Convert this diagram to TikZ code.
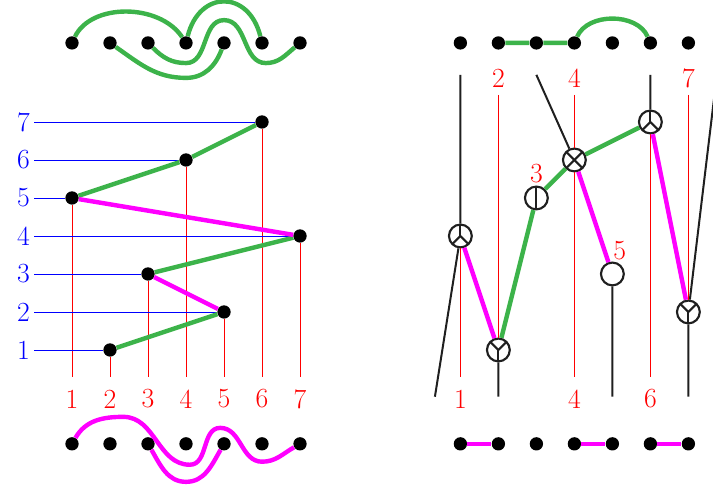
\documentclass[tikz,border=0pt]{standalone}
\usepackage{amsmath,amssymb}
\usepackage{tikz}
\definecolor{arcgreen}{RGB}{60,179,74}
\definecolor{arcmagenta}{RGB}{255,0,255}
\tikzset{
	dot/.style={circle, fill=black, inner sep=0pt, minimum size=3.5mm},
	gline/.style={arcgreen, line width=3.3pt},
	mline/.style={arcmagenta, line width=3.3pt},
	bline/.style={black!88, line width=1.5pt},
	rline/.style={red, line width=0.6pt},
	vtx/.style={circle, draw=black!88, fill=white, line width=1.6pt, inner sep=0pt, minimum size=6mm},
	spokes/.style={vtx, path picture={
		\foreach \a in {#1} \draw[bline] (path picture bounding box.center) -- +(\a:4mm);}},
}
\begin{document}
\begin{tikzpicture}[every node/.style={font=\huge}]
	\clip (-0.895,-2.579) rectangle (17.868,10.21);
	% left: points of the permutation
	\foreach \c/\r in {1/5,2/1,3/3,4/6,5/2,6/7,7/4} {
		\node[dot] (a\c) at (\c,\r) {};
		\coordinate (e\c) at (\c,0.3);
		\node[red] (n\c) at (\c,-0.29) {\c};
		\node[blue, anchor=east, inner sep=1mm] (m\r) at (0,\r) {\r};
		\draw[rline] (a\c) -- (e\c);
		\draw[blue, line width=0.6pt] (m\r.east) -- (a\c);
	}
	\draw[gline] (a2) -- (a5) (a3) -- (a7) (a1) -- (a4) -- (a6);
	\draw[mline] (a5) -- (a3) (a7) -- (a1);
	% left: arcs above and below
	\foreach \i in {1,...,7} {
		\node[dot] (t\i) at (\i,9.08) {};
		\node[dot] (b\i) at (\i,-1.47) {};
	}
	\draw[gline] (t1) .. controls +(0.5,1.05) and +(-0.7,1.05) .. (t4);
	\draw[gline] (t4) .. controls +(0.35,1.4) and +(-0.35,1.4) .. (t6);
	\draw[gline] (t3) to[out=-45,in=180] (4,8.55) to[out=0,in=180] (5,9.68)
		to[out=0,in=180] (6.1,8.55) to[out=0,in=-140] (t7);
	\draw[gline] (t2) to[out=-35,in=180] (4,8.16) to[out=0,in=-110] (t5);
	\draw[mline] (b1) to[out=60,in=180] (2.35,-0.76) to[out=0,in=180] (4.1,-2.02)
		to[out=0,in=180] (4.9,-1.05) to[out=0,in=180] (6,-1.94) to[out=0,in=-150] (b7);
	\draw[mline] (b3) to[out=-60,in=180] (4,-2.47) to[out=0,in=-120] (b5);
	\begin{scope}[xshift=10.22cm]
		\node[spokes={90,225,315}] (c1) at (1,4) {};
		\node[spokes={270,45,135}] (c2) at (2,1) {};
		\node[spokes={90,270}] (c3) at (3,5) {};
		\node[spokes={45,135,225,315}] (c4) at (4,6) {};
		\node[vtx] (c5) at (5,3) {};
		\node[spokes={90,225,315}] (c6) at (6,7) {};
		\node[spokes={270,45,135}] (c7) at (7,2) {};
		\foreach \i in {1,...,7} {
			\coordinate (u\i) at (\i,8.24);
			\coordinate (v\i) at (\i,7.71);
			\coordinate (w\i) at (\i,0.3);
			\coordinate (z\i) at (\i,-0.23);
		}
		\coordinate (z0) at (0.33,-0.23);
		\coordinate (u8) at (7.75,8.24);
		% strands
		\draw[bline] (u1) -- (c1) (z0) -- (c1) (u3) -- (c4) (u6) -- (c6)
			(c2) -- (z2) (c5) -- (z5) (c7) -- (z7) (c7) -- (u8);
		\draw[rline] (c1) -- (w1) (v2) -- (c2) (v4) -- (c4) -- (w4)
			(c6) -- (w6) (v7) -- (c7);
		\foreach \i in {2,4,7} \node[red] (h\i) at (\i,8.15) {\i};
		\foreach \i in {1,4,6} \node[red] (l\i) at (\i,-0.29) {\i};
		\node[red] (k3) at (3,5.65) {3};
		\node[red] (k5) at (5.19,3.61) {5};
		\draw[mline] (c1) -- (c2) (c4) -- (c5) (c6) -- (c7);
		\draw[gline] (c2) -- (c3) -- (c4) -- (c6);
		% arcs above and below
		\foreach \i in {1,...,7} {
			\node[dot] (s\i) at (\i,9.08) {};
			\node[dot] (q\i) at (\i,-1.47) {};
		}
		\draw[gline] (s2) -- (s3) -- (s4) .. controls +(0.35,0.8) and +(-0.35,0.8) .. (s6);
		\draw[mline] (q1) -- (q2) (q4) -- (q5) (q6) -- (q7);
	\end{scope}
\end{tikzpicture}
\end{document}
